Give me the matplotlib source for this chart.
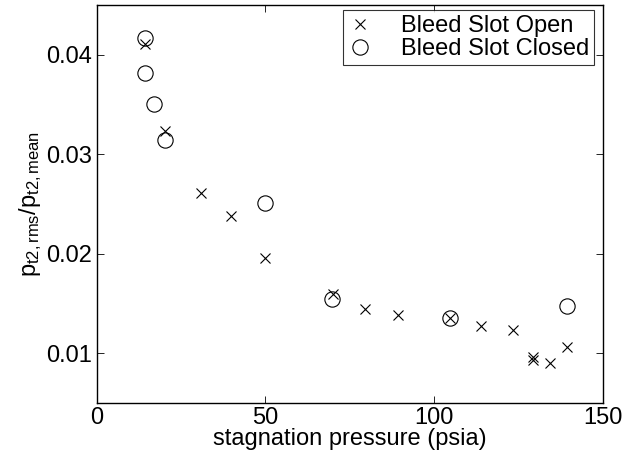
import numpy as np
import matplotlib.pyplot as plt

plt.rcParams['font.family'] = ['Liberation Sans', 'DejaVu Sans']
plt.rcParams['mathtext.fontset'] = 'custom'
plt.rcParams['mathtext.rm'] = 'Liberation Sans'
plt.rcParams['mathtext.it'] = 'Liberation Sans'

#%% Data: rms pressure fluctuation vs stagnation pressure
p0_open   = [14.5, 20.4, 30.9, 40.0, 49.8, 70.0, 79.7, 89.4, 104.7, 114.0, 123.5, 129.3, 129.5, 134.5, 139.4]
prms_open = [0.0411, 0.0323, 0.0261, 0.0238, 0.0196, 0.0160, 0.0144, 0.0138, 0.0135, 0.0127, 0.0123,
             0.0096, 0.0093, 0.0090, 0.0106]

p0_closed   = [14.5, 14.5, 16.9, 20.4, 49.8, 69.7, 104.7, 139.4]
prms_closed = [0.0417, 0.0382, 0.0351, 0.0314, 0.0251, 0.0154, 0.0135, 0.0147]

xticks = [0, 50, 100, 150]
yticks = [0.01, 0.02, 0.03, 0.04]

fs = 17

#%% Plot
fig = plt.figure(figsize=(6.35, 4.61), dpi=100)
ax = fig.add_axes([0.152, 0.126, 0.797, 0.863])

ax.plot(p0_open, prms_open, 'x', color='k', markersize=7.5, markeredgewidth=0.8,
        label='Bleed Slot Open')
ax.plot(p0_closed, prms_closed, 'o', color='k', markerfacecolor='none', markersize=11,
        markeredgewidth=0.8, label='Bleed Slot Closed')

ax.set_xlim(0, 150)
ax.set_ylim(0.005, 0.045)
ax.set_xticks(xticks)
ax.set_yticks(yticks)
ax.set_xticklabels([str(v) for v in xticks])
ax.set_yticklabels([f'{v:.2f}' for v in yticks])
ax.tick_params(direction='in', top=True, right=True, length=5, width=0.6, labelsize=fs, pad=3)
for s in ax.spines.values():
    s.set_linewidth(1.0)

ax.set_xlabel('stagnation pressure (psia)', fontsize=fs, labelpad=-1)
ax.set_ylabel(r'p$_{\mathrm{t2,rms}}$/p$_{\mathrm{t2,mean}}$', fontsize=fs, labelpad=2)

leg = ax.legend(loc='upper right', bbox_to_anchor=(0.982, 0.987), fontsize=fs, frameon=True,
                fancybox=False, borderaxespad=0, handletextpad=1.2, borderpad=0.2,
                labelspacing=0.05, handlelength=1.05)
leg.get_frame().set_edgecolor('k')
leg.get_frame().set_linewidth(0.8)

fig.savefig('out.png', dpi=100)
